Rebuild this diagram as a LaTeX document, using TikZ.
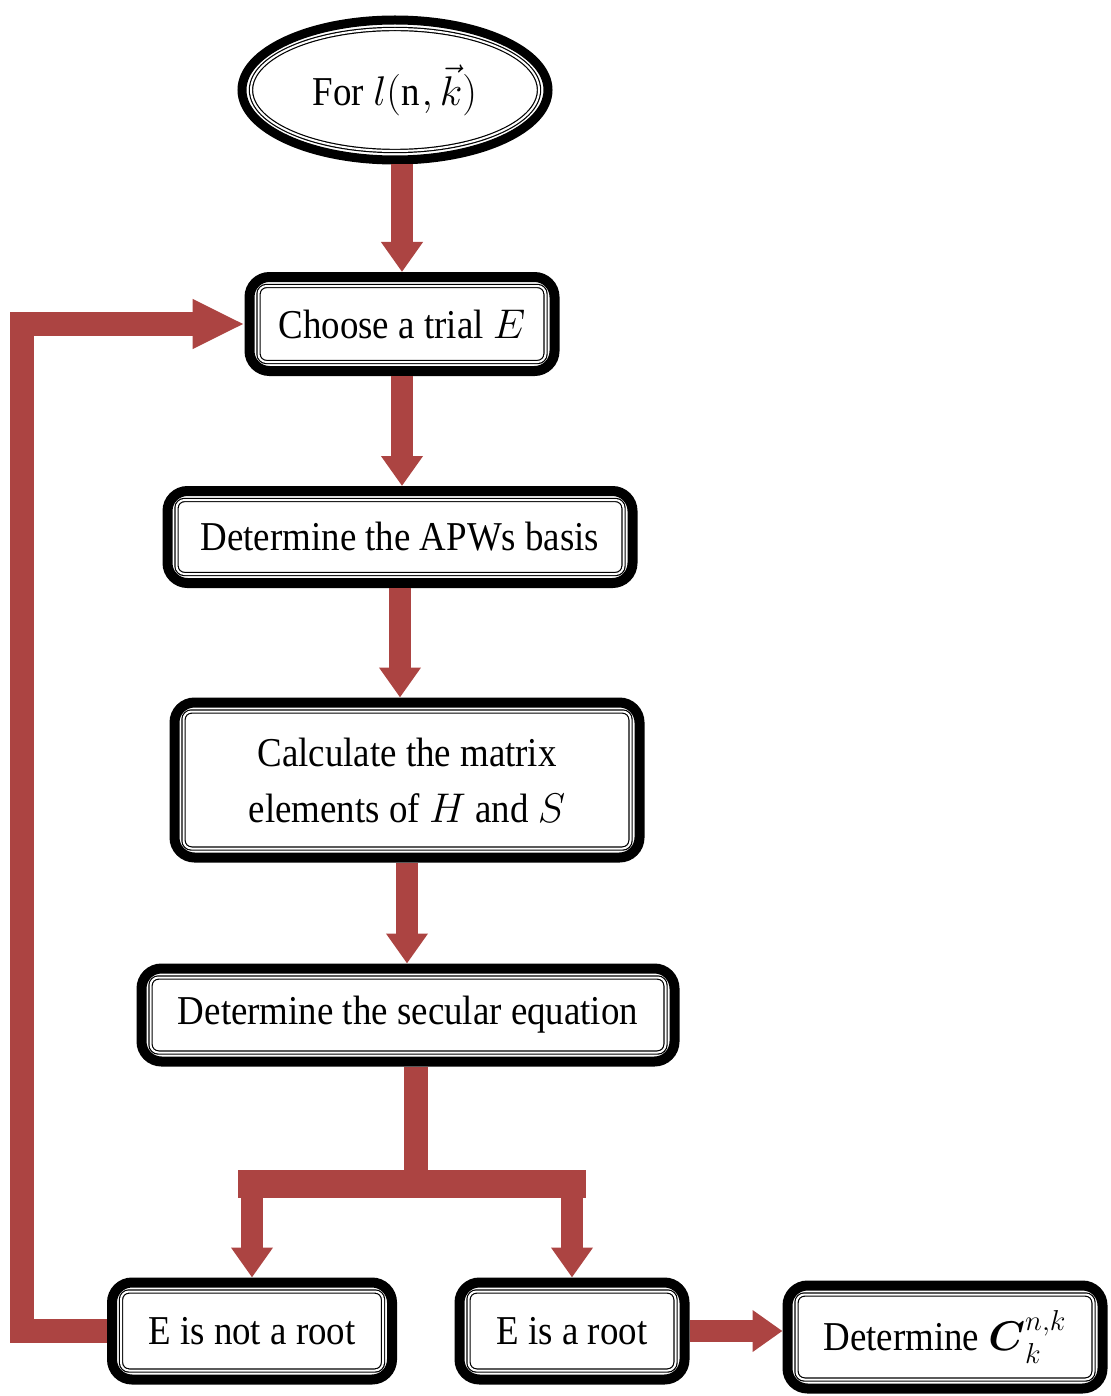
\documentclass[tikz,border=0pt]{standalone}
\usepackage{fontspec}
\setmainfont{Liberation Serif}[FakeStretch=0.9]
\usepackage{amsmath}
\usepackage{tikz}
\usetikzlibrary{arrows.meta,shapes.geometric,positioning}
\definecolor{arrowred}{RGB}{172,68,66}

\begin{document}
\begin{tikzpicture}
[
start_oval/.style={ellipse, draw=black, line width=4.5pt, fill=white, inner sep=0pt, minimum width=153pt, minimum height=70pt, font=\fontsize{20.5}{28}\selectfont},
step_box/.style={rectangle, rounded corners=10pt, draw=black, line width=5pt, fill=white, inner sep=0pt, align=center, font=\fontsize{20.5}{28}\selectfont},
inner_line/.style={draw=black, rounded corners=4pt, line width=0.6pt, double=white, double distance=1pt},
flow/.style={draw=arrowred, line width=11pt, -{Triangle[width=20pt,length=15pt]}},
flow_bar/.style={draw=arrowred, line width=12pt}
]
\useasboundingbox (0,0) rectangle (555.5pt,-698pt);

%Nodes
\node[start_oval]                                          (start)    at (197.5pt,-45pt)                        {For $l(\mathrm{n},\vec{k})$};
\node[step_box, minimum width=152.5pt, minimum height=47pt]   (choose)   [node distance=117pt, below of=start, xshift=3.5pt]   {Choose a trial $E$};
\node[step_box, minimum width=232.5pt, minimum height=46pt]   (apw)      [node distance=106.5pt, below of=choose, xshift=-1pt] {Determine the APWs basis};
\node[step_box, minimum width=232.5pt, minimum height=77.5pt] (calc)     [node distance=121.5pt, below of=apw, xshift=3.5pt]   {Calculate the matrix\\elements of $H$ and $S$};
\node[step_box, minimum width=266.5pt, minimum height=46.5pt] (secular)  [node distance=117.5pt, below of=calc, xshift=0.5pt]  {Determine the secular equation};
\node[step_box, minimum width=140pt, minimum height=48.5pt]   (notroot)  [node distance=158pt, below of=secular, xshift=-78pt] {E is not a root};
\node[step_box, minimum width=112.5pt, minimum height=48.5pt] (isroot)   [node distance=160pt, right of=notroot]               {E is a root};
\node[step_box, minimum width=157.5pt, minimum height=51.5pt] (coef)     [node distance=186.5pt, right of=isroot, yshift=-3pt]  {Determine $\boldsymbol{C}_{k}^{n,k}$};
\node[coordinate]                                          (fork)     [node distance=84.5pt, below of=secular, xshift=4pt]  {};

%Inner double borders
\foreach \n in {choose,apw,calc,secular,notroot,isroot,coef}
  \draw[inner_line] ([shift={(7pt,-7pt)}]\n.north west) rectangle ([shift={(-7pt,7pt)}]\n.south east);
\draw[inner_line] (start.center) ellipse [x radius=72pt, y radius=30.5pt];

%Lines
\draw[flow] (start.south -| choose.north) -- (choose.north);
\draw[flow] (choose.south) -- (choose.south |- apw.north);
\draw[flow] (apw.south) -- (apw.south |- calc.north);
\draw[flow] (calc.south) -- (calc.south |- secular.north);
\draw[flow_bar] (secular.south -| fork) -- (fork);
\draw[flow] (fork -| notroot.north) -- (notroot.north);
\draw[flow] (fork -| isroot.north) -- (isroot.north);
\draw[flow_bar, line width=14pt, line cap=rect] (fork -| notroot.north) -- (fork -| isroot.north);
\draw[flow] (isroot.east) -- (isroot.east -| coef.west);
\draw[flow, line width=12pt, -{Triangle[width=23pt,length=26pt]}] (notroot.west) -- ++(-42.5pt,0) |- (choose.west);
\end{tikzpicture}
\end{document}
